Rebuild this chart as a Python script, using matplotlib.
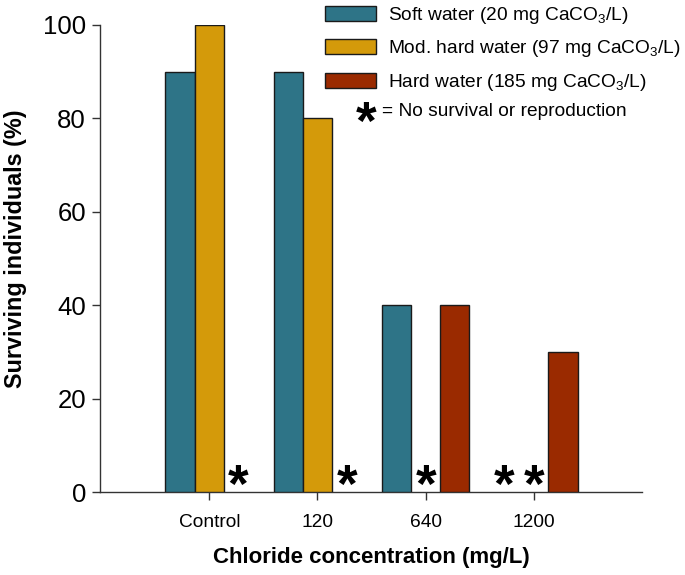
import matplotlib
matplotlib.use("Agg")
import matplotlib.pyplot as plt
import numpy as np

plt.rcParams['font.family'] = ['Liberation Sans', 'DejaVu Sans']
plt.rcParams['mathtext.fontset'] = 'custom'
plt.rcParams['mathtext.rm'] = 'Liberation Sans'
plt.rcParams['mathtext.it'] = 'Liberation Sans:italic'
plt.rcParams['mathtext.bf'] = 'Liberation Sans:bold'

categories = ["Control", "120", "640", "1200"]
soft = [90, 90, 40, 0]
mod_hard = [100, 80, 0, 0]
hard = [0, 0, 40, 30]
series_labels = [r"Soft water (20 mg CaCO$_3$/L)",
                 r"Mod. hard water (97 mg CaCO$_3$/L)",
                 r"Hard water (185 mg CaCO$_3$/L)"]
colors = ["#2E7487", "#D49A0A", "#9A2A00"]
yticks = [0, 20, 40, 60, 80, 100]

fig = plt.figure(figsize=(6.85, 5.75), dpi=100)
ax = fig.add_axes([100/685, 1-492/575, (642-100)/685, (492-25)/575])

x = np.arange(len(categories))
w = 0.27
offsets = [-w, 0, w]
handles = []
for vals, off, col, lab in zip([soft, mod_hard, hard], offsets, colors, series_labels):
    v = np.array(vals, dtype=float)
    mask = v > 0
    b = ax.bar(x[mask] + off, v[mask], width=w, color=col, edgecolor="#1a1a1a",
               linewidth=1.0, label=lab, zorder=3)
    handles.append(b)
    for xi in x[~mask]:
        ax.text(xi + off, -4.5, "*", ha="center", va="bottom", fontsize=38,
                fontweight="bold", color="black", zorder=4)

ax.set_xlim(-1.01, 4.0)
ax.set_ylim(0, 100)
ax.set_xticks(x)
ax.set_xticklabels(categories, fontsize=13.8)
ax.set_yticks(yticks)
ax.set_yticklabels([str(t) for t in yticks], fontsize=18.5)
ax.tick_params(axis='both', direction='out', length=6, width=1, color="#333333")
ax.tick_params(axis='x', pad=10)
ax.tick_params(axis='y', pad=4)
for s in ["top", "right"]:
    ax.spines[s].set_visible(False)
for s in ["left", "bottom"]:
    ax.spines[s].set_linewidth(1.0)
    ax.spines[s].set_color("#333333")

ax.set_ylabel("Surviving individuals (%)", fontsize=16.8, fontweight="bold")
ax.set_xlabel("Chloride concentration (mg/L)", fontsize=16, fontweight="bold")
ax.yaxis.set_label_coords(-0.134, 0.52)
ax.xaxis.set_label_coords(0.5, -0.118)

leg = fig.legend(handles=handles, labels=series_labels, loc="upper left",
                 bbox_to_anchor=(325/685, 1-5/575), frameon=False, fontsize=13.8,
                 handlelength=2.65, handleheight=0.8, handletextpad=0.65,
                 labelspacing=0.65, borderpad=0.0, borderaxespad=0.0)
fig.text(366/685, 1-150/575, "*", ha="center", va="bottom", fontsize=38, fontweight="bold")
fig.text(382/685, 1-111/575, "= No survival or reproduction", ha="left", va="center", fontsize=13.8)

fig.savefig("out.png", dpi=100)
